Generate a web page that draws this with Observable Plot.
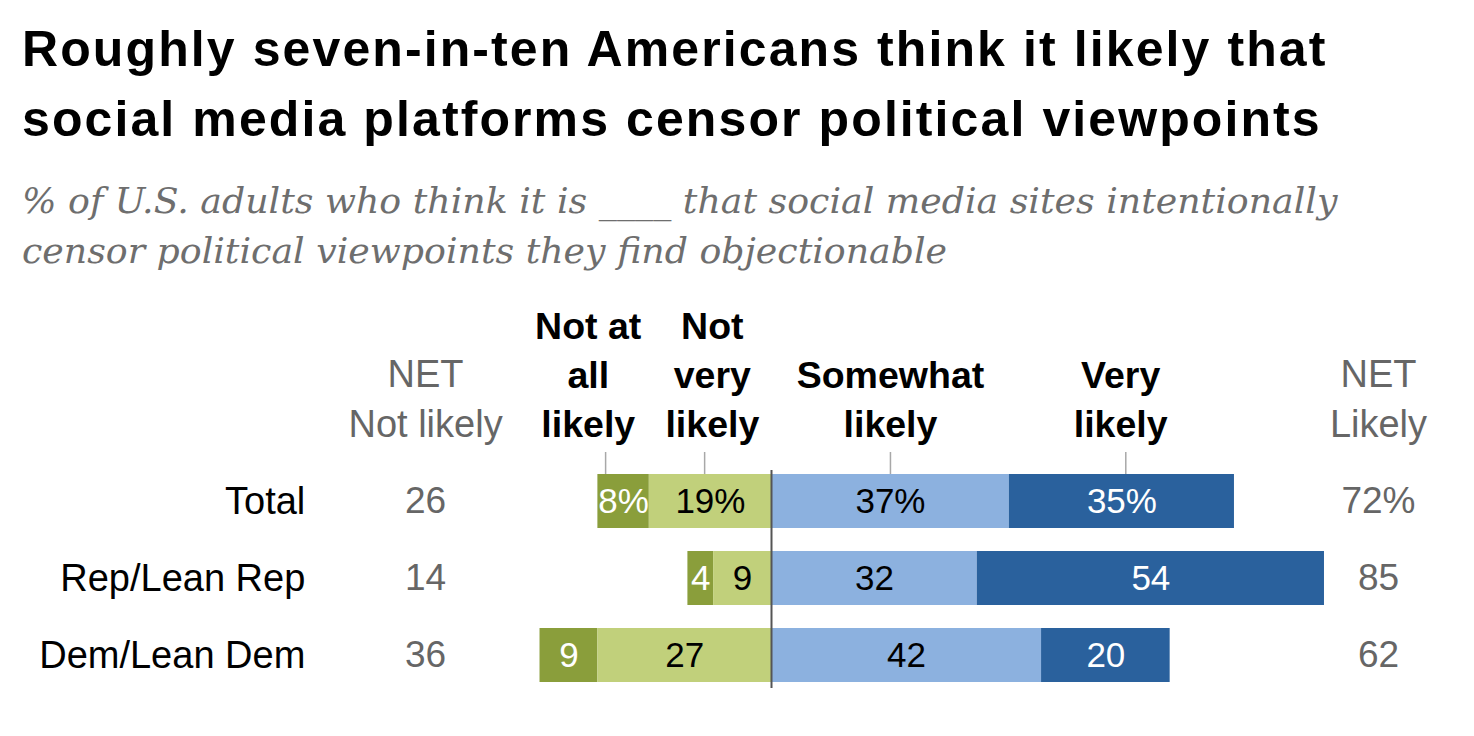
<!DOCTYPE html>
<html>
<head>
<meta charset="utf-8">
<script src="https://cdn.jsdelivr.net/npm/d3@7"></script>
<script src="https://cdn.jsdelivr.net/npm/@observablehq/plot@0.6"></script>
<style>
  html, body { margin: 0; padding: 0; background: #fff; }
  #wrap { width: 1474px; height: 736px; position: relative; overflow: hidden; }
  #head { height: 300px; box-sizing: border-box; padding: 14px 0 0 22px; }
  #title { font-family: "Liberation Sans", Arial, sans-serif; font-weight: bold; font-size: 50px; letter-spacing: 2.1px; line-height: 70px; color: #000; white-space: nowrap; }
  #subtitle { font-family: "DejaVu Serif", serif; font-style: italic; font-size: 36.3px; line-height: 50px; color: #6e6e6e; margin-top: 22px; white-space: nowrap; }
  #chart svg { display: block; }
</style>
</head>
<body>
<div id="wrap">
  <div id="head">
    <div id="title">Roughly seven-in-ten Americans think it likely that<br>social media platforms censor political viewpoints</div>
    <div id="subtitle">% of U.S. adults who think it is ____ that social media sites intentionally<br>censor political viewpoints they find objectionable</div>
  </div>
  <div id="chart"></div>
</div>
<script>
// ---- data ----
const rows = ["Total", "Rep/Lean Rep", "Dem/Lean Dem"];
const categories = ["Not at all likely", "Not very likely", "Somewhat likely", "Very likely"];
const notAtAll = [8, 4, 9];
const notVery = [19, 9, 27];
const somewhat = [37, 32, 42];
const veryLikely = [35, 54, 20];
const netNotLikely = [26, 14, 36];
const netLikely = [72, 85, 62];
const headerLabels = ["Not at\nall\nlikely", "Not\nvery\nlikely", "Somewhat\nlikely", "Very\nlikely"];
const sideHeaders = ["NET\nNot likely", "NET\nLikely"];

// ---- layout / style constants ----
const colors = ["#8a9e3b", "#c1d07b", "#8cb1df", "#2a619d"];
const labelFill = ["#fff", "#000", "#000", "#fff"];
const headerX = [-28.5, -9.2, 18.5, 54.3];
const tickX = [-25.8, -10.4, 18.5, 55.1];
const netNotX = -53.8, netLikelyX = 94.4, rowLabelX = -72.5;
const font = "'Liberation Sans', Arial, sans-serif";

// build segments
const segs = [];
rows.forEach((r, i) => {
  const vals = [notAtAll[i], notVery[i], somewhat[i], veryLikely[i]];
  const bounds = [
    [-(vals[0] + vals[1]), -vals[1]],
    [-vals[1], 0],
    [0, vals[2]],
    [vals[2], vals[2] + vals[3]]
  ];
  vals.forEach((v, k) => {
    segs.push({row: r, cat: categories[k], k, x1: bounds[k][0], x2: bounds[k][1],
      label: i === 0 ? v + "%" : String(v)});
  });
});
const table = rows.map((r, i) => ({row: r, netNot: netNotLikely[i], net: i === 0 ? netLikely[i] + "%" : String(netLikely[i])}));
const headers = headerLabels.map((t, k) => ({x: headerX[k], text: t}));
const sides = [{x: netNotX, text: sideHeaders[0]}, {x: netLikelyX, text: sideHeaders[1]}];

const pxPer = 6.43;
const plot = Plot.plot({
  width: 1474,
  height: 436,
  marginLeft: 0, marginRight: 0, marginTop: 0, marginBottom: 0,
  style: {fontFamily: font, background: "#fff"},
  x: {domain: [-771 / pxPer, 703 / pxPer], axis: null},
  y: {domain: rows, range: [162.5, 393.5], paddingInner: 0.3, paddingOuter: 0.15, axis: null},
  color: {domain: categories, range: colors},
  marks: [
    Plot.ruleX(tickX, {x: d => d, stroke: "#a8a8a8", strokeWidth: 1.5, insetTop: 152, insetBottom: 262}),
    Plot.barX(segs, {x1: "x1", x2: "x2", y: "row", fill: "cat"}),
    Plot.ruleX([0], {stroke: "#555", strokeWidth: 2, insetTop: 170, insetBottom: 48}),
    Plot.text(segs, {x: d => (d.x1 + d.x2) / 2, y: "row", text: "label", fill: d => labelFill[d.k], fontSize: 35}),
    Plot.text(table, {x: rowLabelX, y: "row", text: "row", textAnchor: "end", fontSize: 38, fill: "#000"}),
    Plot.text(table, {x: netNotX, y: "row", text: "netNot", fontSize: 37, fill: "#666"}),
    Plot.text(table, {x: netLikelyX, y: "row", text: "net", fontSize: 37, fill: "#666"}),
    Plot.text(headers, {x: "x", text: "text", frameAnchor: "top", dy: 136, lineAnchor: "bottom", lineHeight: 1.3, fontSize: 37.5, fontWeight: "bold", fill: "#000"}),
    Plot.text(sides, {x: "x", text: "text", frameAnchor: "top", dy: 136, lineAnchor: "bottom", lineHeight: 1.3, fontSize: 38, fill: "#666"})
  ]
});
document.getElementById("chart").appendChild(plot);
</script>
</body>
</html>
